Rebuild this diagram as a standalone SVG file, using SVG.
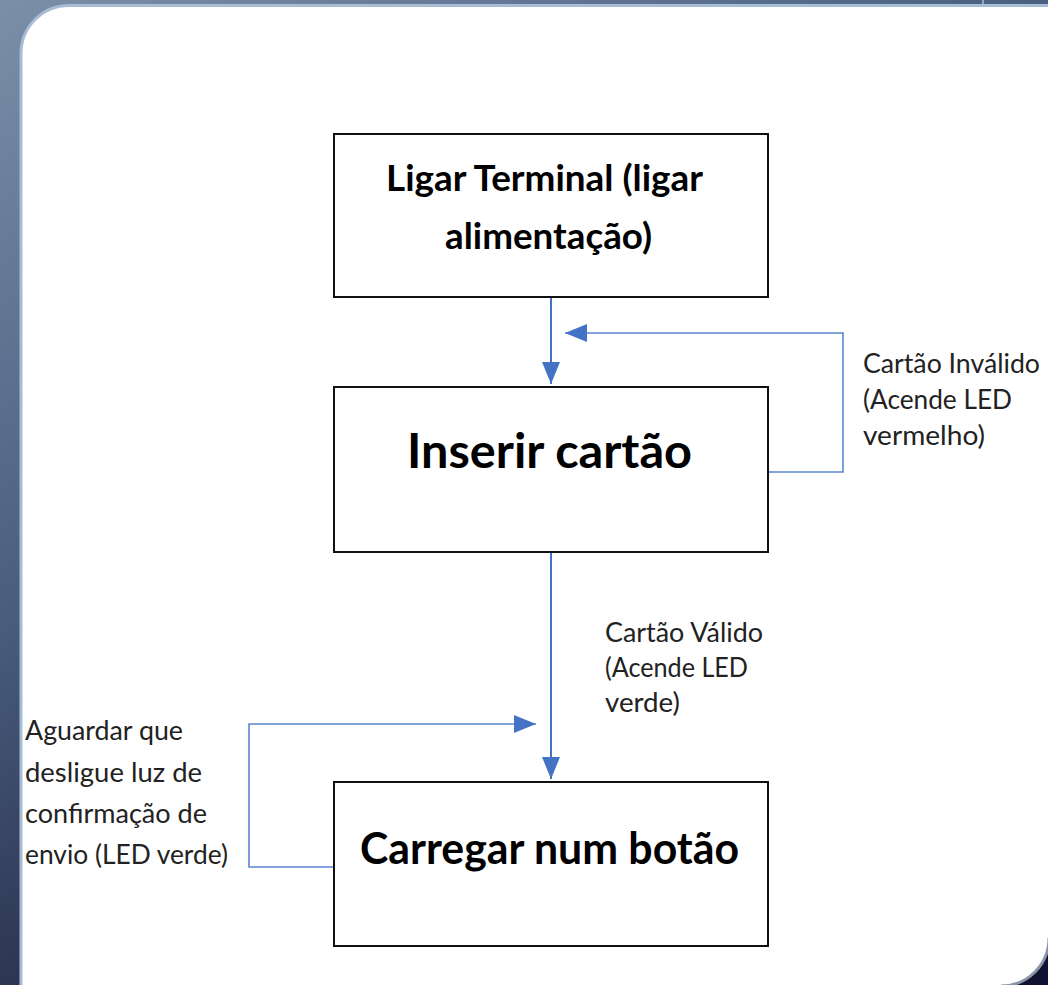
<svg xmlns="http://www.w3.org/2000/svg" width="1048" height="985" viewBox="0 0 1048 985">
<defs>
<linearGradient id="bg" x1="0" y1="0" x2="0.6" y2="1">
<stop offset="0" stop-color="#7b8fa8"/>
<stop offset="0.45" stop-color="#4a5f80"/>
<stop offset="0.75" stop-color="#2c3450"/>
<stop offset="1" stop-color="#0f1230"/>
</linearGradient>
<marker id="ah" viewBox="0 0 22 18" refX="22" refY="9" markerWidth="22" markerHeight="18" markerUnits="userSpaceOnUse" orient="auto">
<path d="M0,0 L22,9 L0,18 Z" fill="#4472c4"/>
</marker>
<style>
.box{fill:#fff;stroke:#111;stroke-width:2}
.title{font-family:Lato,"Liberation Sans",sans-serif;font-weight:bold;fill:#000}
.lbl{font-family:Lato,"Liberation Sans",sans-serif;font-size:26px;fill:#222}
.main{fill:none;stroke:#4472c4;stroke-width:2}
.loop{fill:none;stroke:#5a85cf;stroke-width:1.6}
</style>
</defs>
<rect x="0" y="0" width="1048" height="985" fill="url(#bg)"/>
<rect x="982" y="0" width="2" height="5" fill="#8fa9c8"/>
<path d="M21,53.5 A48,48 0 0 1 69,5.5 L1049,5.5 L1049,938 A48,48 0 0 1 1001,986 L21,986 Z" fill="#fff"/>
<path d="M21,990 L21,53.5 A48,48 0 0 1 69,5.5 L1050,5.5" fill="none" stroke="#a7bdd5" stroke-width="3"/>
<path d="M1049,938 A48,48 0 0 1 1001,986" fill="none" stroke="#8a96a8" stroke-width="3"/>

<g id="connectors">
<path class="main" d="M551,297 L551,384" marker-end="url(#ah)"/>
<path class="loop" d="M768,472 L843,472 L843,333 L565,333" marker-end="url(#ah)"/>
<path class="main" d="M551,552 L551,779" marker-end="url(#ah)"/>
<path class="loop" d="M334,867 L249,867 L249,724 L536,724" marker-end="url(#ah)"/>
</g>

<g id="node-ligar">
<rect class="box" x="334" y="134" width="434" height="163"/>
<text class="title" font-size="37" x="386" y="191" textLength="317" lengthAdjust="spacingAndGlyphs">Ligar Terminal (ligar</text>
<text class="title" font-size="37" x="445" y="249" textLength="207" lengthAdjust="spacingAndGlyphs">alimentação)</text>
</g>

<g id="node-inserir">
<rect class="box" x="334" y="387" width="434" height="165"/>
<text class="title" font-size="47" x="407" y="468" textLength="285" lengthAdjust="spacingAndGlyphs">Inserir cartão</text>
</g>

<g id="node-carregar">
<rect class="box" x="334" y="782" width="434" height="164"/>
<text class="title" font-size="43" x="360" y="864" textLength="379" lengthAdjust="spacingAndGlyphs">Carregar num botão</text>
</g>

<g id="label-invalido">
<text class="lbl" x="863" y="373" textLength="177" lengthAdjust="spacingAndGlyphs">Cartão Inválido</text>
<text class="lbl" x="863" y="409" textLength="149" lengthAdjust="spacingAndGlyphs">(Acende LED</text>
<text class="lbl" x="863" y="445" textLength="122" lengthAdjust="spacingAndGlyphs">vermelho)</text>
</g>

<g id="label-valido">
<text class="lbl" x="605" y="642" textLength="158" lengthAdjust="spacingAndGlyphs">Cartão Válido</text>
<text class="lbl" x="605" y="677" textLength="143" lengthAdjust="spacingAndGlyphs">(Acende LED</text>
<text class="lbl" x="605" y="712" textLength="75" lengthAdjust="spacingAndGlyphs">verde)</text>
</g>

<g id="label-aguardar">
<text class="lbl" x="25" y="740" textLength="158" lengthAdjust="spacingAndGlyphs">Aguardar que</text>
<text class="lbl" x="25" y="782" textLength="177" lengthAdjust="spacingAndGlyphs">desligue luz de</text>
<text class="lbl" x="25" y="823" textLength="182" lengthAdjust="spacingAndGlyphs">confirmação de</text>
<text class="lbl" x="25" y="864" textLength="203" lengthAdjust="spacingAndGlyphs">envio (LED verde)</text>
</g>
</svg>
